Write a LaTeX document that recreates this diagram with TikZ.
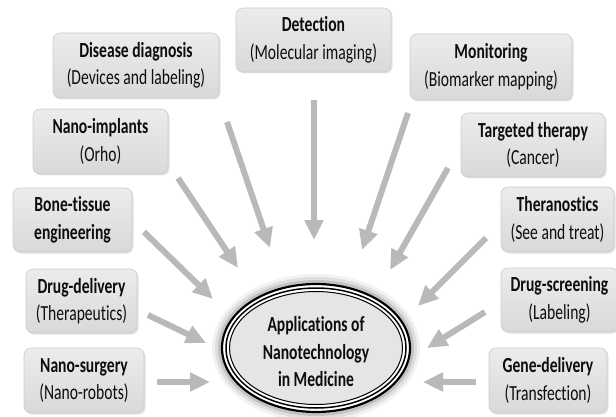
\documentclass[tikz,border=0pt]{standalone}
\usepackage{fontspec}
\setmainfont{Carlito}[Ligatures=NoCommon]
\usepackage{graphicx}
\usetikzlibrary{arrows.meta,shadows}
\newcommand\bl[1]{\scalebox{1}[1.38]{\bfseries #1}}
\newcommand\rl[1]{\scalebox{1}[1.38]{#1}}
\tikzset{
  appbox/.style={draw=gray!40, line width=0.6pt, rounded corners=7pt, top color=gray!15, bottom color=gray!30,
    inner sep=0pt, align=center, text=black!95, font=\fontsize{15.6}{27.5}\selectfont,
    drop shadow={opacity=0.22, shadow xshift=1.5pt, shadow yshift=-1.5pt}},
  fatarrow/.style={draw=gray!55, line width=6pt, -{Triangle[length=20pt,width=18pt]}},
}
\begin{document}
\begin{tikzpicture}[x=1pt,y=-1pt]
\useasboundingbox (0,0) rectangle (616,417);
\fill[white] (0,0) rectangle (616,417);
% boxes
\node[appbox, minimum width=166pt, minimum height=65pt] (dd) at (136,65.5) {\bl{Disease diagnosis}\\\rl{(Devices and labeling)}};
\node[appbox, minimum width=155pt, minimum height=64pt] (det) at (313.5,40) {\bl{Detection}\\\rl{(Molecular imaging)}};
\node[appbox, minimum width=162pt, minimum height=66pt] (mon) at (491,67) {\bl{Monitoring}\\\rl{(Biomarker mapping)}};
\node[appbox, minimum width=135pt, minimum height=65pt] (imp) at (100.5,141.5) {\bl{Nano-implants}\\\rl{(Orho)}};
\node[appbox, minimum width=144pt, minimum height=64pt] (tgt) at (533,145) {\bl{Targeted therapy}\\\rl{(Cancer)}};
\node[appbox, minimum width=119pt, minimum height=64pt] (bone) at (72.5,220) {\bl{Bone-tissue}\\\bl{engineering}};
\node[appbox, minimum width=113pt, minimum height=65pt] (ther) at (557.5,219.5) {\bl{Theranostics}\\\rl{(See and treat)}};
\node[appbox, minimum width=111pt, minimum height=64pt] (drug) at (81.5,301) {\bl{Drug-delivery}\\\rl{(Therapeutics)}};
\node[appbox, minimum width=117pt, minimum height=64pt] (scr) at (559.5,300) {\bl{Drug-screening}\\\rl{(Labeling)}};
\node[appbox, minimum width=120pt, minimum height=65pt] (surg) at (84,380.5) {\bl{Nano-surgery}\\\rl{(Nano-robots)}};
\node[appbox, minimum width=118pt, minimum height=65pt] (gene) at (548,380.5) {\bl{Gene-delivery}\\\rl{(Transfection)}};
% central ellipse with halo
\foreach \r/\o in {9/0.05,6/0.08,3/0.12}{
  \fill[black, opacity=\o] (316,348) ellipse ({95+\r} and {65+\r});
}
\fill[white] (316,348) ellipse (95 and 65);
\draw[black, line width=2.2pt] (316,348) ellipse (94 and 64);
\draw[black, line width=1.5pt] (316,348) ellipse (90 and 60);
\draw[black, line width=1pt, fill=gray!20] (316,348) ellipse (86.5 and 56.5);
\node[align=center, text=black!95, font=\fontsize{15.6}{27.5}\selectfont, inner sep=0pt] (ctr) at (316,352) {\bl{Applications of}\\\bl{Nanotechnology}\\\bl{in Medicine}};
% arrow ends
\coordinate (t1) at (227,122); \coordinate (h1) at (270,248);
\coordinate (t2) at (314,100); \coordinate (h2) at (314,240);
\coordinate (t3) at (408,113); \coordinate (h3) at (362,250);
\coordinate (t4) at (178,178); \coordinate (h4) at (238,268);
\coordinate (t5) at (448,168); \coordinate (h5) at (390,270);
\coordinate (t6) at (144,232); \coordinate (h6) at (213,299);
\coordinate (t7) at (486,238); \coordinate (h7) at (418,306);
\coordinate (t8) at (148,315); \coordinate (h8) at (206,343);
\coordinate (t9) at (485,312); \coordinate (h9) at (427,348);
\coordinate (t10) at (157,382); \coordinate (h10) at (210,382);
\coordinate (t11) at (476,382); \coordinate (h11) at (423,382);
\foreach \i in {1,...,11}{\draw[fatarrow] (t\i) -- (h\i);}
\end{tikzpicture}
\end{document}
